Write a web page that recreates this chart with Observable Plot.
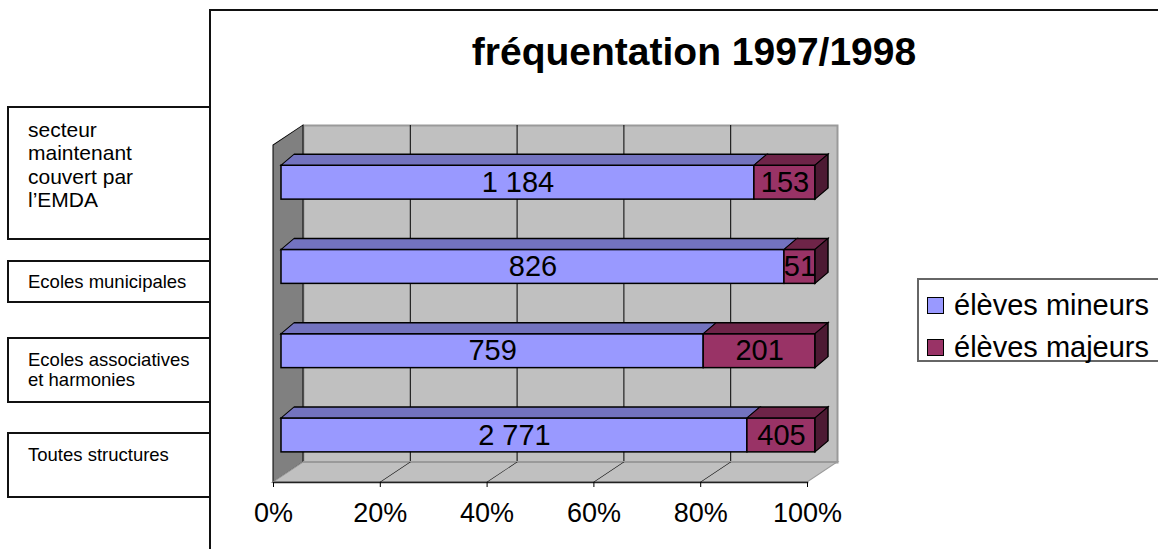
<!DOCTYPE html>
<html>
<head>
<meta charset="utf-8">
<script src="https://cdn.jsdelivr.net/npm/d3@7"></script>
<script src="https://cdn.jsdelivr.net/npm/@observablehq/plot@0.6"></script>
<style>
  html, body { margin: 0; padding: 0; background: #fff; }
  #wrap { position: relative; width: 1158px; height: 549px; overflow: hidden;
          font-family: "Liberation Sans", Arial, sans-serif; color: #000; }
  #wrap svg { position: absolute; left: 0; top: 0; }
  .frame { position: absolute; left: 209px; top: 9px; width: 1200px; height: 800px;
           border-left: 2px solid #111; border-top: 2px solid #111; z-index: 2; }
  .box { position: absolute; left: 7px; width: 204px; box-sizing: border-box;
         border: 2px solid #111; padding-left: 19px; white-space: pre-line; z-index: 3; background: #fff; }
  .title { position: absolute; left: 394px; width: 600px; top: 32px; text-align: center;
           font-weight: bold; font-size: 39px; line-height: 39px; z-index: 3; }
  .legend { position: absolute; left: 917px; top: 278px; width: 300px; height: 84px;
            box-sizing: border-box; border: 2px solid #666; z-index: 3; background: #fff; }
  .item { position: absolute; left: 8px; height: 42px; display: flex; align-items: center;
          font-size: 29px; white-space: nowrap; }
  .sw { width: 15px; height: 15px; border: 1.5px solid #000; margin-right: 10px; }
</style>
</head>
<body>
<div id="wrap"></div>
<script>
// ---------- data ----------
const chartTitle = "fréquentation 1997/1998";
const categories = ["secteur\nmaintenant\ncouvert par\nl’EMDA", "Ecoles municipales", "Ecoles associatives\net harmonies", "Toutes structures"];
const seriesNames = ["élèves mineurs", "élèves majeurs"];
const mineurs = [1184, 826, 759, 2771];
const majeurs = [153, 51, 201, 405];
const xTicks = [0, 0.2, 0.4, 0.6, 0.8, 1];
const xTickLabels = ["0%", "20%", "40%", "60%", "80%", "100%"];

// ---------- styles ----------
const frontColors = ["#9999FF", "#993366"];
const topColors = ["#7373BF", "#6E2448"];
const sideColor = "#4D1A33";
const W = 1158, H = 549;
const pLeft = 273, pRight = 807, pTop = 145, pBottom = 482;
const WALL_DX = 30, WALL_DY = -20;   // depth of the walls
const BAR_DX = 8, BAR_DY = -5;       // bars sit slightly behind the front plane
const BD_X = 13, BD_Y = -11;         // depth of a bar
const bandH = (pBottom - pTop) / categories.length;
const barH = 34;
const barInset = (bandH - barH) / 2;

const rows = categories.flatMap((c, i) => [
  {cat: c, series: seriesNames[0], value: mineurs[i]},
  {cat: c, series: seriesNames[1], value: majeurs[i]}
]);
const colorOf = (arr) => (d) => arr[seriesNames.indexOf(d.series)];
const fmtNum = d3.formatLocale({decimal: ",", thousands: " ", grouping: [3], currency: ["", ""]}).format(",");
const stk = (o) => Plot.stackX({x: "value", y: "cat", z: "series", offset: "normalize", ...o});

const plot = Plot.plot({
  width: W, height: H,
  marginLeft: pLeft, marginRight: W - pRight, marginTop: pTop, marginBottom: H - pBottom,
  style: {fontFamily: "'Liberation Sans', Arial, sans-serif", background: "transparent", overflow: "visible"},
  x: {domain: [0, 1], label: null},
  y: {domain: categories, axis: null, padding: 0, round: false},
  color: {type: "identity"},
  marks: [
    Plot.frame({fill: "#C0C0C0", stroke: "#9a9a9a", strokeWidth: 2, dx: WALL_DX, dy: WALL_DY}),
    Plot.ruleX(xTicks.slice(1, -1), {stroke: "#000", strokeWidth: 1, dx: WALL_DX, dy: WALL_DY}),
    Plot.barX([0], {x1: d => d, x2: d => d, insetRight: -WALL_DX, fill: "#808080", stroke: "#000", strokeWidth: 1, ariaLabel: () => "side wall"}),
    Plot.barX([0], {x1: d => d, x2: () => 1, insetTop: (pBottom - pTop) + WALL_DY, fill: "#C0C0C0", stroke: "#9a9a9a", strokeWidth: 2, ariaLabel: () => "floor"}),
    Plot.ruleX(xTicks.slice(1, -1), {stroke: "#000", strokeWidth: 1, insetTop: (pBottom - pTop) + WALL_DY, ariaLabel: () => "floor"}),
    Plot.frame({anchor: "bottom", stroke: "#222", strokeWidth: 1.5}),
    Plot.axisX({ticks: xTicks, tickFormat: (d) => xTickLabels[xTicks.indexOf(d)], tickSize: 5, tickPadding: 15,
                fontSize: 27, stroke: "#000", fill: "#000", label: null}),
    // bar front faces
    Plot.barX(rows, stk({fill: colorOf(frontColors), stroke: "#000", strokeWidth: 1.5,
      insetTop: barInset, insetBottom: barInset, dx: BAR_DX, dy: BAR_DY})),
    // bar top faces
    Plot.barX(rows, stk({fill: colorOf(topColors), stroke: "#000", strokeWidth: 1.5,
      insetTop: barInset + BD_Y, insetBottom: bandH - barInset, dx: BAR_DX, dy: BAR_DY, ariaLabel: () => "bar top"})),
    // bar side faces (end of the 100% stack)
    Plot.barX(categories, {y: d => d, x1: () => 1, x2: () => 1, insetRight: -BD_X,
      insetTop: barInset, insetBottom: barInset, fill: sideColor, stroke: "#000", strokeWidth: 1.5,
      dx: BAR_DX, dy: BAR_DY, ariaLabel: () => "bar side"}),
    Plot.text(rows, stk({text: d => fmtNum(d.value), fontSize: 29, fill: "#000", dx: BAR_DX, dy: BAR_DY}))
  ]
});

const wrap = document.getElementById("wrap");
wrap.appendChild(plot);

// oblique projection of the depth faces (skew applied on each element's own coordinates)
const deg = (r) => r * 180 / Math.PI;
const x0 = plot.scale("x").apply(0);
const addT = (el, t) => { const e = el.getAttribute("transform") || ""; el.setAttribute("transform", (e + " " + t).trim()); };
plot.querySelectorAll('[aria-label="floor"]').forEach(el => {
  addT(el, `translate(0,${pBottom}) skewX(${deg(Math.atan(WALL_DX / WALL_DY))}) translate(0,${-pBottom})`);
});
plot.querySelectorAll('[aria-label="side wall"]').forEach(el => {
  addT(el, `translate(${x0},0) skewY(${deg(Math.atan(WALL_DY / WALL_DX))}) translate(${-x0},0)`);
});
plot.querySelectorAll('[aria-label="bar top"]').forEach(el => {
  const yb = +el.getAttribute("y") + +el.getAttribute("height");
  addT(el, `translate(0,${yb}) skewX(${deg(Math.atan(BD_X / BD_Y))}) translate(0,${-yb})`);
});
plot.querySelectorAll('[aria-label="bar side"]').forEach(el => {
  const xl = +el.getAttribute("x");
  addT(el, `translate(${xl},0) skewY(${deg(Math.atan(BD_Y / BD_X))}) translate(${-xl},0)`);
});

// chart frame, title, category boxes, legend
const frameDiv = document.createElement("div"); frameDiv.className = "frame"; wrap.appendChild(frameDiv);
const titleDiv = document.createElement("div"); titleDiv.className = "title"; titleDiv.textContent = chartTitle; wrap.appendChild(titleDiv);

const boxSpecs = [
  {y: 106, h: 134, fs: 21, lh: 23.3, pad: 10},
  {y: 260, h: 43, fs: 18.5, lh: 21, pad: 9},
  {y: 337, h: 66, fs: 18.5, lh: 20, pad: 11},
  {y: 432, h: 66, fs: 18.5, lh: 21, pad: 10}
];
categories.forEach((c, i) => {
  const s = boxSpecs[i];
  const b = document.createElement("div");
  b.className = "box";
  b.style.top = s.y + "px"; b.style.height = s.h + "px";
  b.style.fontSize = s.fs + "px"; b.style.lineHeight = s.lh + "px";
  b.style.paddingTop = s.pad + "px";
  b.textContent = c;
  wrap.appendChild(b);
});

const lg = document.createElement("div"); lg.className = "legend"; wrap.appendChild(lg);
seriesNames.forEach((n, i) => {
  const it = document.createElement("div"); it.className = "item";
  it.style.top = (4 + i * 42) + "px";
  const sw = document.createElement("div"); sw.className = "sw"; sw.style.background = frontColors[i];
  const tx = document.createElement("span"); tx.textContent = n;
  it.appendChild(sw); it.appendChild(tx); lg.appendChild(it);
});
</script>
</body>
</html>
